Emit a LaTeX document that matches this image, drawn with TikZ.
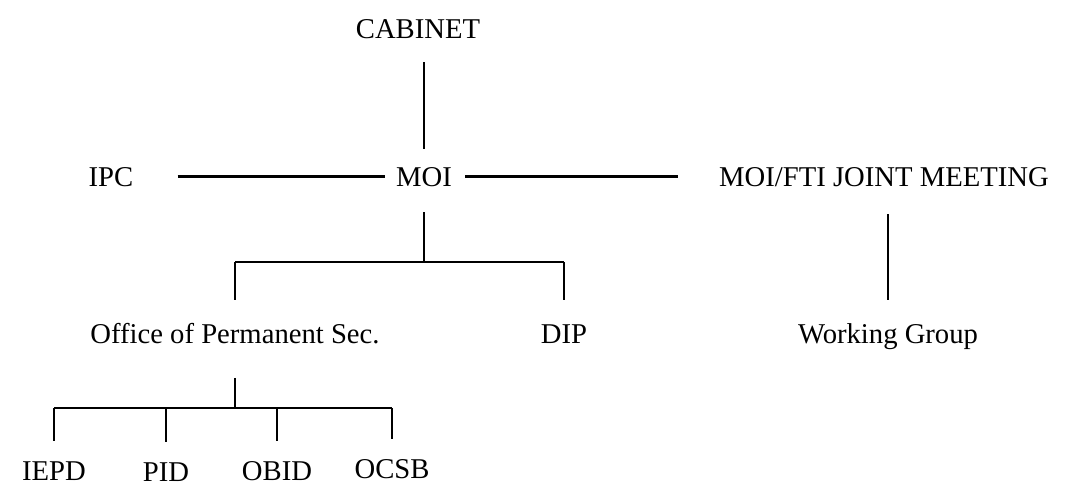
\documentclass[tikz,border=0pt]{standalone}
\usepackage{fontspec}
\setmainfont{Liberation Serif}
\usepackage{tikz}
\usetikzlibrary{positioning, calc}

\begin{document}
\begin{tikzpicture}[x=0.75pt, y=-0.75pt,
    unit/.style={inner sep=0pt, anchor=base, text height=14.2pt, text depth=0pt,
      font=\fontsize{21.5}{26}\selectfont},
    link/.style={line width=1.7pt}]
  \useasboundingbox (0,0) rectangle (1067,487);
  % top level
  \node[unit] (cab) at (418,38) {CABINET};
  \node[unit] (moi) at (424,186) {MOI};
  \node[unit] (ipc) at (111,186) {IPC};
  \node[unit] (joint) at (884,186) {MOI/FTI JOINT MEETING};
  \draw[link, shorten <=18pt, shorten >=13pt] (moi.north |- cab.south) -- (moi.north);
  \draw[link, shorten <=33pt, shorten >=8pt] (ipc) -- (moi);
  \draw[link, shorten <=10pt, shorten >=31pt] (moi) -- (joint);
  % second level
  \node[unit] (ops) at (235,343) {Office of Permanent Sec.};
  \node[unit] (dip) at (564,343) {DIP};
  \node[unit] (wg) at (888,343) {Working Group};
  \coordinate (j1) at (424,262);
  \draw[link, shorten <=19.5pt] (moi.south) -- (j1);
  \draw[link] (ops.north |- j1) -- (dip.north |- j1);
  \foreach \n in {ops,dip}
    \draw[link, shorten >=18pt] (\n.north |- j1) -- (\n.north);
  \draw[link, shorten <=21pt, shorten >=18pt] (wg.north |- joint.south) -- (wg.north);
  % divisions
  \node[unit] (iepd) at (54,480) {IEPD};
  \node[unit] (pid) at (166,481) {PID};
  \node[unit] (obid) at (277,480) {OBID};
  \node[unit] (ocsb) at (392,478) {OCSB};
  \coordinate (j2) at (235,408);
  \draw[link, shorten <=26pt] (ops.south) -- (j2);
  \draw[link] (iepd.north |- j2) -- (ocsb.north |- j2);
  \foreach \n in {iepd,pid,obid,ocsb}
    \draw[link, shorten >=15pt] (\n.north |- j2) -- (\n.north);
\end{tikzpicture}
\end{document}
